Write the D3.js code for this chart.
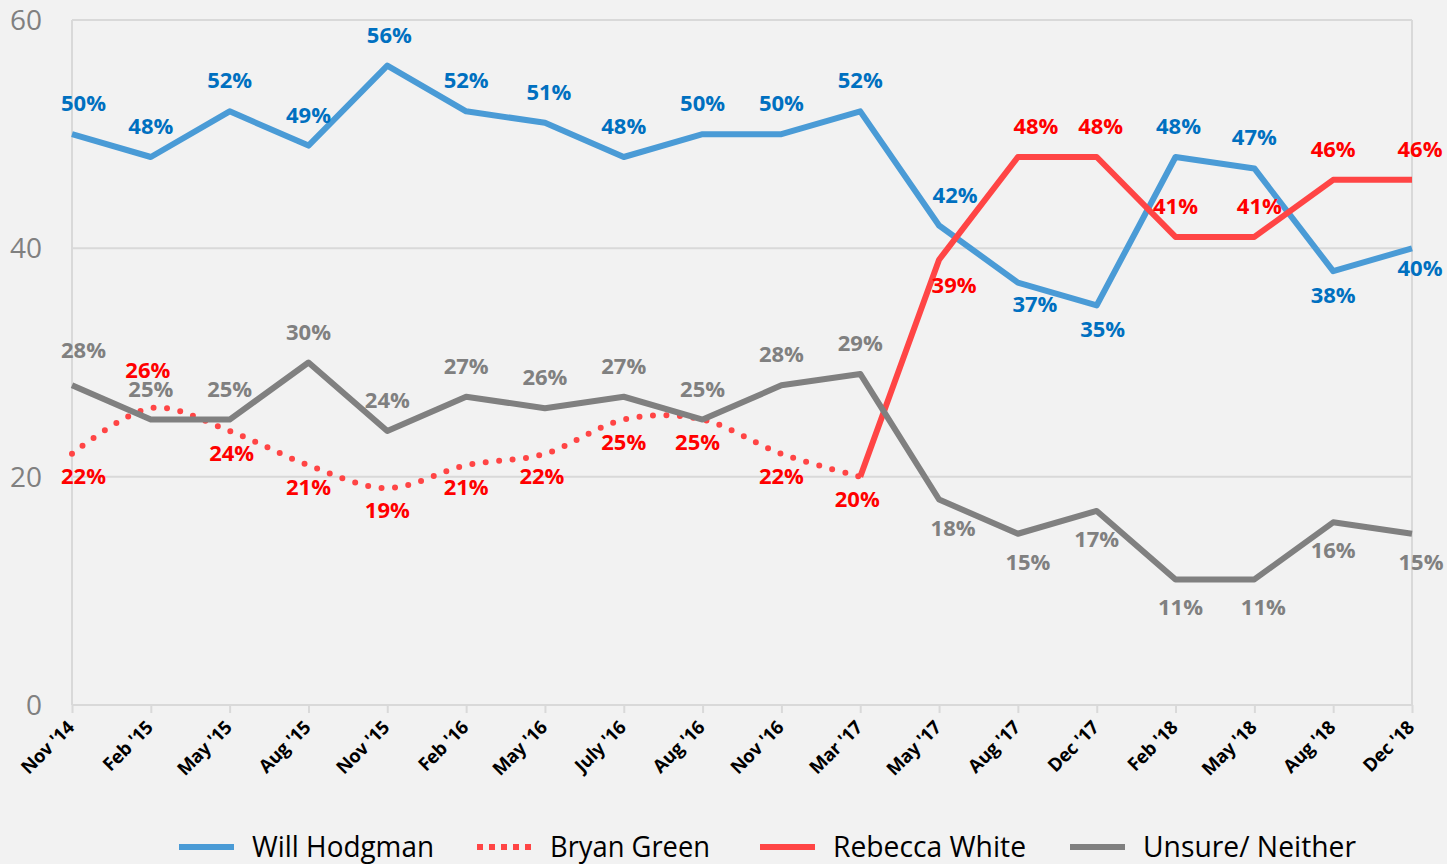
<!DOCTYPE html>
<html>
<head>
<meta charset="utf-8">
<script src="https://cdn.jsdelivr.net/npm/d3@7"></script>
<style>
  html, body { margin: 0; padding: 0; background: #f2f2f2; }
  svg { display: block; }
</style>
</head>
<body>
<svg width="1447" height="864"></svg>
<script>
// survey waves
const waves = ["Nov '14", "Feb '15", "May '15", "Aug '15", "Nov '15", "Feb '16", "May '16", "July '16", "Aug '16",
  "Nov '16", "Mar '17", "May '17", "Aug '17", "Dec '17", "Feb '18", "May '18", "Aug '18", "Dec '18"]

const hodgman = [50, 48, 52, 49, 56, 52, 51, 48, 50, 50, 52, 42, 37, 35, 48, 47, 38, 40]
const green = [22, 26, 24, 21, 19, 21, 22, 25, 25, 22, 20, null, null, null, null, null, null, null]
const white = [null, null, null, null, null, null, null, null, null, null, 20, 39, 48, 48, 41, 41, 46, 46]
const unsure = [28, 25, 25, 30, 24, 27, 26, 27, 25, 28, 29, 18, 15, 17, 11, 11, 16, 15]

const yTicks = [0, 20, 40, 60]

// where each label sits: a = above, b = below, space = no label
const labelSide = {
  hodgman: "aaaaaaaaaaaabbaabb",
  green:   "babbbbbbbbb       ",
  white:   "           baaaaaa",
  unsure:  "aaaaaaaaaaabbbbbbb"
}
// hand nudges of single labels (dx, dy), like the dragged labels of the original
const nudge = {
  "hodgman-4": [2, 0], "hodgman-6": [4, 0], "hodgman-11": [16, 0], "hodgman-12": [17, -3],
  "hodgman-13": [6, 0], "hodgman-14": [3, 0], "hodgman-17": [8, -4],
  "green-1": [-3, -7], "green-2": [2, 0], "green-6": [-3, 0], "green-8": [-5, 0], "green-10": [-3, 0],
  "white-11": [15, 0], "white-12": [18, 0], "white-13": [4, 0], "white-15": [5, 0], "white-17": [8, 0],
  "unsure-0": [0, -4], "unsure-11": [14, 0], "unsure-12": [10, 0], "unsure-14": [5, 0],
  "unsure-15": [9, 0], "unsure-17": [9, 0]
}

const series = [
  {name: "Will Hodgman", key: "hodgman", values: hodgman, line: "#4a9bd6", text: "#0070c0", below: 32},
  {name: "Bryan Green", key: "green", values: green, line: "#ff4545", text: "#ff0000", below: 30, dotted: true},
  {name: "Rebecca White", key: "white", values: white, line: "#ff4545", text: "#ff0000", below: 33},
  {name: "Unsure/ Neither", key: "unsure", values: unsure, line: "#808080", text: "#808080", below: 36}
]

const margin = {top: 20, left: 72, right: 35, bottom: 159}
const width = 1447, height = 864
const svg = d3.select("svg")

const x = d3.scalePoint().domain(waves).range([margin.left, width - margin.right])
const y = d3.scaleLinear().domain([0, 60]).range([height - margin.bottom, margin.top])

const grid = "#d9d9d9"

// gridlines + frame
svg.append("g").selectAll("line")
  .data(yTicks)
  .enter().append("line")
  .attr("x1", margin.left).attr("x2", width - margin.right)
  .attr("y1", d => y(d)).attr("y2", d => y(d))
  .attr("stroke", grid).attr("stroke-width", 2)

svg.append("line")
  .attr("x1", margin.left).attr("x2", margin.left)
  .attr("y1", y(60)).attr("y2", y(0))
  .attr("stroke", grid).attr("stroke-width", 2)
svg.append("line")
  .attr("x1", width - margin.right).attr("x2", width - margin.right)
  .attr("y1", y(60)).attr("y2", y(0))
  .attr("stroke", grid).attr("stroke-width", 2)

// y labels
svg.append("g").selectAll("text")
  .data(yTicks)
  .enter().append("text")
  .attr("x", margin.left - 30)
  .attr("y", d => y(d) + 10)
  .attr("text-anchor", "end")
  .style("font-family", "'Open Sans', sans-serif")
  .style("font-size", "28px")
  .style("fill", "#808080")
  .text(d => d)

// x axis
const gX = svg.append("g")
  .attr("transform", "translate(0," + y(0) + ")")
  .call(d3.axisBottom(x).tickSize(8).tickSizeOuter(0))
gX.select(".domain").remove()
gX.selectAll(".tick line").attr("stroke", grid).attr("stroke-width", 2)
gX.selectAll(".tick text")
  .attr("text-anchor", "end")
  .attr("transform", "translate(-7,14) rotate(-45)")
  .attr("dy", "0.75em")
  .attr("y", 0)
  .style("font-family", "'Open Sans', sans-serif")
  .style("font-weight", "bold")
  .style("font-size", "18.5px")
  .style("letter-spacing", "-0.3px")
  .style("fill", "#000")

// lines
const gLines = svg.append("g")
series.forEach(s => {
  const line = d3.line()
    .defined(d => d != null)
    .x((d, i) => x(waves[i]))
    .y(d => y(d))
  if (s.dotted) line.curve(d3.curveCardinal.tension(0))
  gLines.append("path")
    .attr("d", line(s.values))
    .attr("fill", "none")
    .attr("stroke", s.line)
    .attr("stroke-width", 6)
    .attr("stroke-linejoin", "round")
    .attr("stroke-linecap", s.dotted ? "round" : "butt")
    .attr("stroke-dasharray", s.dotted ? "0 13.5" : null)
})

// data labels
const gLabels = svg.append("g")
series.forEach(s => {
  s.values.forEach((v, i) => {
    const side = labelSide[s.key][i]
    if (v == null || side == " ") return
    const n = nudge[s.key + "-" + i] || [0, 0]
    const t = gLabels.append("text")
      .attr("x", x(waves[i]))
      .attr("y", y(v) + (side == "a" ? -23 : s.below) + n[1])
      .attr("text-anchor", "middle")
      .style("font-family", "'Open Sans', sans-serif")
      .style("font-weight", "bold")
      .style("font-size", "22px")
      .style("fill", s.text)
      .text(v + "%")
    const w = t.node().getComputedTextLength()
    let cx = x(waves[i]) + n[0]
    if (cx - w / 2 < 61) cx = 61 + w / 2
    if (cx + w / 2 > 1445) cx = 1445 - w / 2
    t.attr("x", cx)
  })
})

// legend
const legX = [179, 477, 760, 1070]
const textLen = [182, 160, 193, 213]
const gLeg = svg.append("g")
series.forEach((s, i) => {
  gLeg.append("line")
    .attr("x1", legX[i]).attr("x2", legX[i] + 55)
    .attr("y1", 847).attr("y2", 847)
    .attr("stroke", s.line)
    .attr("stroke-width", 6)
    .attr("stroke-dasharray", s.dotted ? "6 6" : null)
  gLeg.append("text")
    .attr("x", legX[i] + 73)
    .attr("y", 857)
    .attr("textLength", textLen[i])
    .attr("lengthAdjust", "spacingAndGlyphs")
    .style("font-family", "'Liberation Sans Narrow', 'Open Sans', sans-serif")
    .style("font-size", "29px")
    .style("fill", "#000")
    .text(s.name)
})
</script>
</body>
</html>
